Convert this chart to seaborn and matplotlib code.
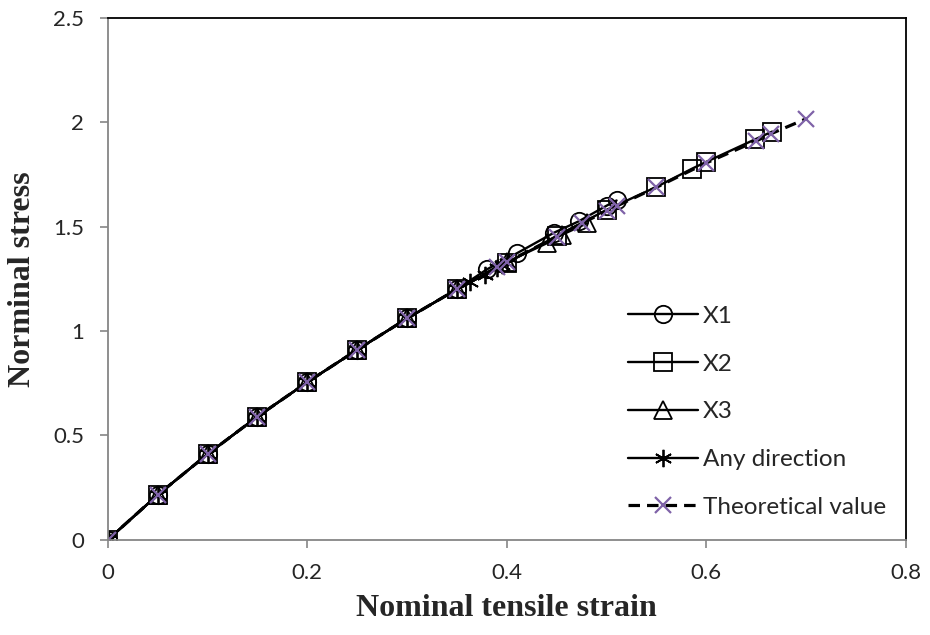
import numpy as np
import pandas as pd
import matplotlib
matplotlib.use("Agg")
import matplotlib.pyplot as plt
import seaborn as sns

# Values
base_strain = [0.0, 0.05, 0.10, 0.15, 0.20, 0.25, 0.30, 0.35]
base_stress = [0.0, 0.215, 0.41, 0.59, 0.755, 0.91, 1.06, 1.20]

x1_strain = base_strain + [0.38, 0.41, 0.447, 0.472, 0.50, 0.51]
x1_stress = base_stress + [1.295, 1.372, 1.47, 1.525, 1.60, 1.625]

x2_strain = base_strain + [0.40, 0.45, 0.50, 0.55, 0.586, 0.60, 0.649, 0.666]
x2_stress = base_stress + [1.325, 1.455, 1.58, 1.69, 1.778, 1.81, 1.918, 1.955]

x3_strain = base_strain + [0.40, 0.44, 0.455, 0.48]
x3_stress = base_stress + [1.33, 1.42, 1.46, 1.515]

any_strain = base_strain + [0.363, 0.378, 0.39, 0.395, 0.40]
any_stress = base_stress + [1.235, 1.27, 1.30, 1.315, 1.325]

theo_strain = base_strain + [0.39, 0.40, 0.45, 0.475, 0.50, 0.51, 0.55,
                             0.60, 0.65, 0.665, 0.70]
theo_stress = base_stress + [1.305, 1.33, 1.452, 1.515, 1.575, 1.598, 1.688,
                             1.805, 1.91, 1.945, 2.016]

sns.set_style("ticks")
plt.rcParams["font.family"] = ["Lato", "DejaVu Sans"]

fig, ax = plt.subplots(figsize=(9.3, 6.35), dpi=100)
fig.subplots_adjust(left=0.116, right=0.974, bottom=0.15, top=0.972)

series = [
    ("X1", x1_strain, x1_stress, "o"),
    ("X2", x2_strain, x2_stress, "s"),
    ("X3", x3_strain, x3_stress, "^"),
    ("Any direction", any_strain, any_stress, (6, 2, 0)),
]
for label, xs, ys, mk in series:
    sns.lineplot(x=xs, y=ys, ax=ax, label=label, color="black", lw=1.7,
                 marker=mk, markersize=12.5, markerfacecolor="none",
                 markeredgecolor="black", markeredgewidth=1.3)

sns.lineplot(x=theo_strain, y=theo_stress, ax=ax, label="Theoretical value",
             color="black", lw=2.3, dashes=(3.6, 2.2), marker="x", markersize=12,
             markeredgecolor="#7F62A8", markeredgewidth=1.6)

ax.set_xlim(0, 0.8)
ax.set_ylim(0, 2.5)
ax.set_xticks([0, 0.2, 0.4, 0.6, 0.8])
ax.set_xticklabels(["0", "0.2", "0.4", "0.6", "0.8"])
ax.set_yticks([0, 0.5, 1, 1.5, 2, 2.5])
ax.set_yticklabels(["0", "0.5", "1", "1.5", "2", "2.5"])
ax.tick_params(axis="both", labelsize=16, color="#868686", length=6, width=1.2, pad=11)

for side in ["left", "bottom"]:
    ax.spines[side].set_color("#868686")
    ax.spines[side].set_linewidth(1.3)
for side in ["top", "right"]:
    ax.spines[side].set_visible(True)
    ax.spines[side].set_color("black")
    ax.spines[side].set_linewidth(1.3)

ax.set_xlabel("Nominal tensile strain", fontsize=23, fontweight="bold",
              family="Liberation Serif", labelpad=8)
ax.set_ylabel("Norminal stress", fontsize=23, fontweight="bold",
              family="Liberation Serif", labelpad=12)

ax.legend(loc="lower right", bbox_to_anchor=(1.003, 0.0), frameon=False,
          fontsize=17.5, handlelength=2.9, labelspacing=1.1, handletextpad=0.2,
          numpoints=1)

plt.savefig("out.png", dpi=100)
